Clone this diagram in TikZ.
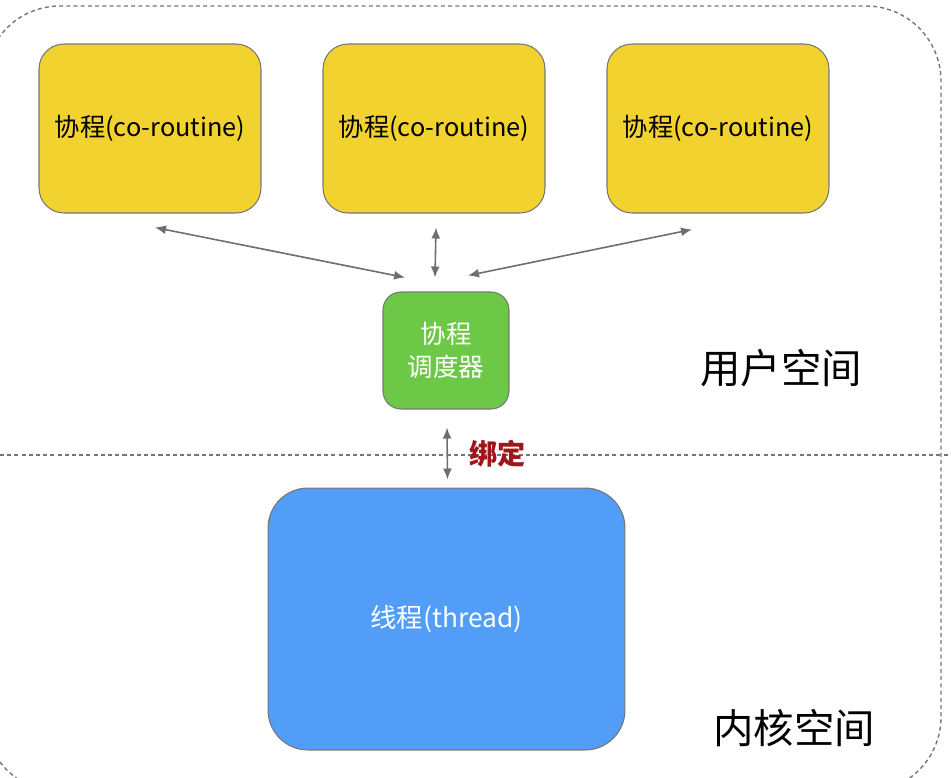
\documentclass[tikz,border=0pt]{standalone}
\usepackage{fontspec}
\setmainfont{Noto Sans CJK SC}
\usetikzlibrary{arrows.meta, positioning}

\definecolor{coyellow}{HTML}{F2D22F}
\definecolor{schedgreen}{HTML}{6DC847}
\definecolor{threadblue}{HTML}{529DF8}
\definecolor{edgegray}{HTML}{767676}
\definecolor{arrowgray}{HTML}{6E6E6E}
\definecolor{bindred}{HTML}{A0141A}

\begin{document}
\begin{tikzpicture}[
    x=0.02cm, y=-0.02cm,
    line width=0.6pt,
    font=\fontsize{14.4pt}{17pt}\selectfont,
    node distance=1.22cm,
    cobox/.style={draw=edgegray, fill=coyellow, rounded corners=0.5cm, minimum width=4.44cm, minimum height=3.38cm, inner sep=0pt},
    schedbox/.style={draw=edgegray, fill=schedgreen, rounded corners=0.36cm, minimum width=2.52cm, minimum height=2.34cm, inner sep=0pt, text=white, align=center, font=\fontsize{14.5pt}{18.7pt}\selectfont},
    threadbox/.style={draw=edgegray, fill=threadblue, rounded corners=0.8cm, minimum width=7.14cm, minimum height=5.24cm, inner sep=0pt, text=white, font=\fontsize{15pt}{18pt}\selectfont},
    spacelabel/.style={inner sep=0pt, font=\fontsize{23pt}{28pt}\selectfont},
    bindlabel/.style={inner sep=0pt, text=bindred, font=\fontsize{16pt}{19pt}\selectfont\bfseries},
    sepline/.style={draw=edgegray, line width=0.8pt, dash pattern=on 2.3pt off 1.8pt},
    biarrow/.style={draw=arrowgray, line width=0.9pt, {Latex[length=2.2mm,width=1.8mm]}-{Latex[length=2.2mm,width=1.8mm]}}
]
    \useasboundingbox (0,0) rectangle (951,778);
    \clip (0,0) rectangle (951,778);

    % user / kernel space
    \draw[sepline, rounded corners=1.5cm] (-15,6) rectangle (941,792);
    \draw[sepline] (0,455) -- (951,455);

    \node[cobox] (coA) at (150,128.5) {协程(co-routine)};
    \node[cobox, right=of coA] (coB) {协程(co-routine)};
    \node[cobox, right=of coB] (coC) {协程(co-routine)};

    \node[schedbox] (sched) at (446,350.5) {协程\\调度器};
    \node[threadbox] (thread) at (446.5,619) {线程(thread)};

    \node[spacelabel] (user) at (781,368) {用户空间};
    \node[spacelabel] (kernel) at (794,728) {内核空间};

    \draw[biarrow] ([shift={(5,14)}]coA.south) -- ([shift={(-41,-14)}]sched.north);
    \draw[biarrow] ([shift={(2,14)}]coB.south) -- ([shift={(-11,-14)}]sched.north);
    \draw[biarrow] ([shift={(-26,16)}]coC.south) -- ([shift={(22,-16)}]sched.north);
    \draw[biarrow] ([shift={(1,18)}]sched.south) -- node[bindlabel, right=12pt] {绑定} ([shift={(1,-8)}]thread.north);
\end{tikzpicture}
\end{document}
